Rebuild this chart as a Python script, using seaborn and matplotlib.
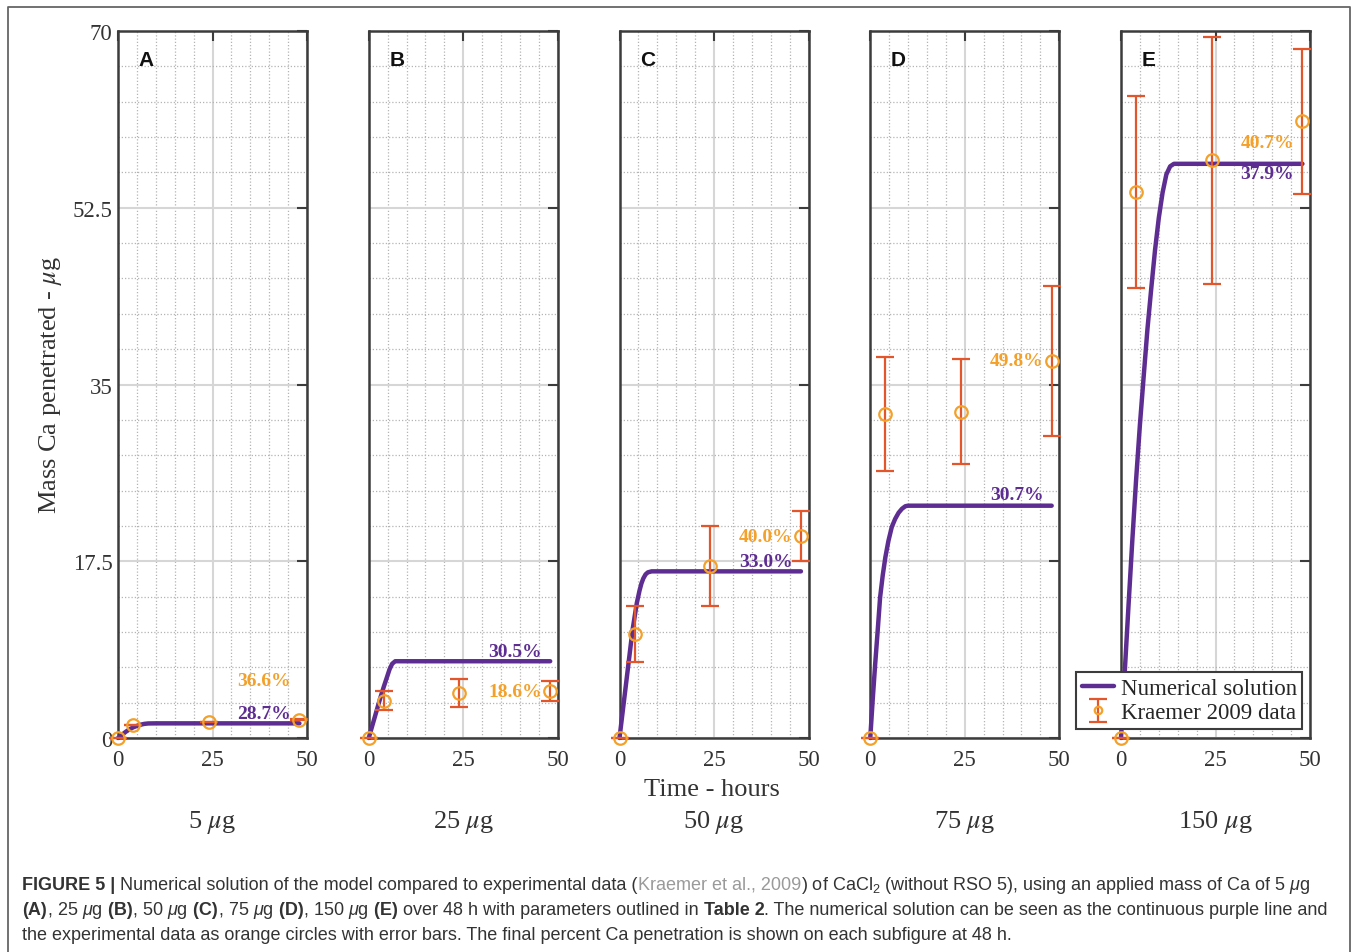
import numpy as np
import pandas as pd
import matplotlib
matplotlib.use('Agg')
import matplotlib.pyplot as plt
from matplotlib.lines import Line2D
import seaborn as sns

# ---- data ----
panel_letters = ['A', 'B', 'C', 'D', 'E']
dose_labels = ['5 $\\mu$g', '25 $\\mu$g', '50 $\\mu$g', '75 $\\mu$g', '150 $\\mu$g']

# numerical solution (time in h, mass in ug)
sol_t_A = [0, 1, 2, 3, 4, 5, 6, 7, 8, 10, 48]
sol_m_A = [0, 0.3, 0.6, 0.85, 1.05, 1.2, 1.32, 1.4, 1.44, 1.45, 1.45]
sol_t_B = [0, 1, 2, 3, 4, 4.8, 5.5, 6.2, 7, 48]
sol_m_B = [0, 1.3, 2.6, 3.9, 5.1, 6.0, 6.8, 7.35, 7.6, 7.6]
sol_t_C = [0, 1, 2, 3, 3.5, 4.0, 4.6, 5.3, 5.8, 6.3, 6.9, 7.5, 8.5, 48]
sol_m_C = [0, 3.1, 6.2, 9.3, 10.8, 12.0, 13.4, 14.6, 15.3, 15.8, 16.2, 16.4, 16.5, 16.5]
sol_t_D = [0, 0.65, 1.3, 2.0, 2.6, 3.3, 4.0, 4.8, 5.7, 6.6, 7.5, 8.4, 9.3, 10, 48]
sol_m_D = [0, 3.8, 7.3, 10.8, 13.9, 16.1, 17.9, 19.5, 20.9, 21.7, 22.3, 22.7, 22.95, 23.0, 23.0]
sol_t_E = [0, 1, 2, 3, 4, 5, 6, 7, 8, 9, 10, 11, 12, 13, 14, 48]
sol_m_E = [0, 6.6, 13.2, 19.6, 25.6, 31.0, 35.8, 40.5, 44.5, 48.3, 51.5,
           54.0, 55.8, 56.6, 56.85, 56.85]

# Kraemer 2009 data
exp_t = [0, 4, 24, 48]
exp_m_A = [0, 1.29, 1.6, 1.83]
exp_e_A = [0, 0.03, 0.03, 0.03]
exp_m_B = [0, 3.7, 4.45, 4.65]
exp_e_B = [0, 0.95, 1.35, 1.0]
exp_m_C = [0, 10.3, 17.06, 20.0]
exp_e_C = [0, 2.8, 3.95, 2.45]
exp_m_D = [0, 32.1, 32.3, 37.35]
exp_e_D = [0, 5.65, 5.2, 7.4]
exp_m_E = [0, 54.06, 57.2, 61.05]
exp_e_E = [0, 9.5, 12.2, 7.2]

pct_exp = ['36.6%', '18.6%', '40.0%', '49.8%', '40.7%']
pct_sol = ['28.7%', '30.5%', '33.0%', '30.7%', '37.9%']
# where the percent labels sit (y, data units)
pct_exp_y = [5.74, 4.65, 20.0, 37.4, 59.0]
pct_sol_y = [2.38, 8.6, 17.5, 24.06, 55.9]

sol_t = [sol_t_A, sol_t_B, sol_t_C, sol_t_D, sol_t_E]
sol_m = [sol_m_A, sol_m_B, sol_m_C, sol_m_D, sol_m_E]
exp_m = [exp_m_A, exp_m_B, exp_m_C, exp_m_D, exp_m_E]
exp_e = [exp_e_A, exp_e_B, exp_e_C, exp_e_D, exp_e_E]

PURPLE = '#5E2D91'
ORANGE = '#F3A12A'
RED = '#E3562B'
DARK = '#3C3C3C'

sns.set_theme(style='white')
plt.rcParams.update({
    'font.family': ['Liberation Serif', 'DejaVu Serif'],
    'mathtext.fontset': 'custom',
    'mathtext.rm': 'Liberation Sans',
    'mathtext.it': 'Liberation Sans:italic',
    'mathtext.bf': 'Liberation Sans:bold',
    'axes.edgecolor': DARK,
    'axes.linewidth': 1.5,
})

W, H = 1358, 953
fig = plt.figure(figsize=(W / 100, H / 100), dpi=100)


def fx(px):
    return px / W


def fy(py):
    return 1 - py / H


ax_top, ax_bot = 32, 739
axes = []
for i, letter in enumerate(panel_letters):
    left = 118 + 250.75 * i
    ax = fig.add_axes([fx(left), fy(ax_bot), 189 / W, (ax_bot - ax_top) / H])
    axes.append(ax)

    df = pd.DataFrame({'t': sol_t[i], 'm': sol_m[i]})
    sns.lineplot(data=df, x='t', y='m', ax=ax, color=PURPLE, linewidth=3.2,
                 zorder=3, clip_on=False)
    eb = ax.errorbar(exp_t, exp_m[i], yerr=exp_e[i], fmt='o', color=ORANGE,
                     ecolor=RED, elinewidth=1.6, capsize=6.5, capthick=1.6,
                     mfc='none', mec=ORANGE, mew=1.6, ms=9, zorder=4,
                     clip_on=False)
    for art in eb.lines[1] + eb.lines[2]:
        art.set_clip_on(False)

    ax.set_xlim(0, 50)
    ax.set_ylim(0, 70)
    ax.set_xticks([0, 25, 50])
    ax.set_yticks([0, 17.5, 35, 52.5, 70])
    ax.set_xticks(np.arange(0, 51, 5), minor=True)
    ax.set_yticks(np.arange(0, 70.1, 3.5), minor=True)
    ax.grid(which='minor', color='#b4b4b4', linestyle=(0, (1, 1.6)), linewidth=0.9)
    ax.grid(which='major', color='#d6d6d6', linestyle='-', linewidth=1.5)
    ax.set_axisbelow(True)
    ax.tick_params(which='major', direction='in', length=7, width=1.5,
                   color=DARK, top=True, right=True, labelsize=16.5,
                   labelcolor='#333333', pad=8)
    ax.tick_params(which='minor', length=0)
    ax.tick_params(axis='y', pad=4)
    if i == 0:
        ax.set_yticklabels(['0', '17.5', '35', '52.5', '70'])
    else:
        ax.set_yticklabels([])
    ax.set_xlabel('')
    ax.set_ylabel('')
    for sp in ax.spines.values():
        sp.set_visible(True)
        sp.set_color(DARK)
        sp.set_linewidth(1.8)

    ax.text(7.4, 67.2, letter, fontsize=15, fontweight='bold', family='Liberation Sans',
            ha='center', va='center', color='#111111')
    ax.text(45.8, pct_exp_y[i], pct_exp[i], color=ORANGE, fontsize=14,
            fontweight='bold', ha='right', va='center', zorder=5)
    ax.text(45.8, pct_sol_y[i], pct_sol[i], color=PURPLE, fontsize=14,
            fontweight='bold', ha='right', va='center', zorder=5)

    fig.text(fx(left + 94.5), fy(823), dose_labels[i], fontsize=19, ha='center',
             va='center', color='#333333', math_fontfamily='stix')

# legend in panel E
handles = [Line2D([0], [0], color=PURPLE, lw=3.2), eb]
leg = axes[4].legend(handles, ['Numerical solution', 'Kraemer 2009 data'],
                     loc='lower right', bbox_to_anchor=(0.96, 0.013), borderaxespad=0,
                     fontsize=16.5, frameon=True, fancybox=False, framealpha=1,
                     edgecolor=DARK, handlelength=1.4, handletextpad=0.3,
                     borderpad=0.25, labelspacing=0.15, markerscale=0.6)
leg.get_frame().set_linewidth(1.5)
leg.set_zorder(10)

fig.text(fx(712), fy(790), 'Time - hours', fontsize=19, ha='center', va='center',
         color='#333333')
fig.text(fx(51), fy(385), 'Mass Ca penetrated - $\\mu$g', fontsize=19, rotation=90,
         ha='center', va='center', color='#333333', math_fontfamily='stix')

# outer frame of the figure panel
fig.add_artist(Line2D([fx(8), fx(8), fx(1350), fx(1350)],
                      [fy(960), fy(8), fy(8), fy(960)],
                      transform=fig.transFigure, color='#666666', lw=1.3))

# caption, drawn piece by piece
TXT = '#333333'
GRAY = '#9a9a9a'
cap_lines = [
    [('FIGURE 5 |', 'bold', TXT),
     (' Numerical solution of the model compared to experimental data (', 'normal', TXT),
     ('Kraemer et al., 2009', 'normal', GRAY),
     (') of CaCl$_2$ (without RSO 5), using an applied mass of Ca of 5 $\\mu$g', 'normal', TXT)],
    [('(A)', 'bold', TXT), (', 25 $\\mu$g', 'normal', TXT), (' (B)', 'bold', TXT),
     (', 50 $\\mu$g', 'normal', TXT), (' (C)', 'bold', TXT), (', 75 $\\mu$g', 'normal', TXT),
     (' (D)', 'bold', TXT), (', 150 $\\mu$g', 'normal', TXT), (' (E)', 'bold', TXT),
     (' over 48 h with parameters outlined in', 'normal', TXT), (' Table 2', 'bold', TXT),
     ('. The numerical solution can be seen as the continuous purple line and', 'normal', TXT)],
    [('the experimental data as orange circles with error bars. The final percent Ca '
      'penetration is shown on each subfigure at 48 h.', 'normal', TXT)],
]
cap_y = [890, 915, 940]
renderer = fig.canvas.get_renderer()
for line, yb in zip(cap_lines, cap_y):
    x = 22
    for txt, weight, col in line:
        t = fig.text(fx(x), fy(yb), txt, fontsize=13.0, fontweight=weight, color=col,
                     family='Liberation Sans', va='baseline', ha='left',
                     math_fontfamily='custom')
        x += t.get_window_extent(renderer=renderer).width

fig.savefig('out.png', dpi=100)
